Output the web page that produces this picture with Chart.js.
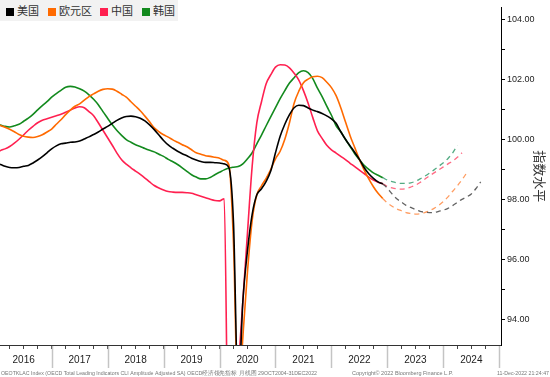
<!DOCTYPE html>
<html>
<head>
<meta charset="utf-8">
<script src="https://cdn.jsdelivr.net/npm/chart.js@4.4.1/dist/chart.umd.min.js"></script>
<style>
  html, body { margin: 0; padding: 0; background: #fff; }
  #wrap { position: relative; width: 550px; height: 377px; }
  #legend { position: absolute; left: 0; top: 0; width: 178px; height: 21px; background: #f2f2f2;
            font: 11px 'Noto Sans CJK SC', sans-serif; color: #333; }
  #legend .box { position: absolute; top: 8px; width: 8px; height: 8px; }
  #legend .txt { position: absolute; top: 2px; line-height: 16px; white-space: nowrap; }
</style>
</head>
<body>
<div id="wrap">
  <canvas id="myChart" width="550" height="377"></canvas>
  <div id="legend"></div>
</div>
<script>
// monthly values, Jan 2016 .. Dec 2022
var seriesNames = ['美国', '欧元区', '中国', '韩国'];
var yearLabels = ['2016', '2017', '2018', '2019', '2020', '2021', '2022', '2023', '2024'];
var firstYear = 2016;
var forecastFrom = 83; // Dec 2022

var usActual = [
    99.19, 99.16, 99.10, 99.06, 99.05, 99.06, 99.10, 99.13, 99.21, 99.31, 99.42, 99.55,
    99.68, 99.78, 99.85, 99.87, 99.90, 99.91, 99.94, 100.01, 100.08, 100.16, 100.24, 100.34,
    100.43, 100.53, 100.63, 100.71, 100.76, 100.77, 100.75, 100.70, 100.61, 100.48, 100.32, 100.14,
    99.96, 99.81, 99.70, 99.60, 99.52, 99.45, 99.37, 99.31, 99.26, 99.23, 99.23, 99.22,
    99.21, 99.18, 99.06, 97.20, 91.50, 94.60, 96.30, 97.50, 98.15, 98.35, 98.60, 98.95,
    99.55, 100.10, 100.50, 100.82, 101.05, 101.13, 101.12, 101.04, 100.97, 100.92, 100.86, 100.78,
    100.68, 100.53, 100.25, 100.00, 99.78, 99.56, 99.33, 99.06, 98.85, 98.70, 98.58, 98.51
]
var euActual = [
    100.50, 100.46, 100.40, 100.33, 100.25, 100.16, 100.10, 100.07, 100.06, 100.09, 100.15, 100.24,
    100.34, 100.50, 100.65, 100.82, 100.97, 101.10, 101.18, 101.30, 101.42, 101.51, 101.60, 101.66,
    101.68, 101.67, 101.60, 101.50, 101.40, 101.25, 101.10, 100.95, 100.77, 100.58, 100.38, 100.25,
    100.15, 100.07, 99.98, 99.90, 99.82, 99.75, 99.65, 99.55, 99.50, 99.45, 99.43, 99.40,
    99.37, 99.30, 99.15, 96.50, 91.00, 93.40, 95.60, 97.30, 98.15, 98.45, 98.70, 99.00,
    99.35, 99.60, 100.00, 100.55, 101.20, 101.60, 101.88, 102.00, 102.08, 102.10, 102.05, 101.90,
    101.72, 101.45, 101.05, 100.58, 100.12, 99.72, 99.33, 98.98, 98.68, 98.42, 98.20, 98.03
]
var cnActual = [
    99.50, 99.62, 99.68, 99.76, 99.87, 100.00, 100.15, 100.30, 100.43, 100.55, 100.63, 100.68,
    100.73, 100.78, 100.83, 100.90, 100.97, 101.04, 101.08, 101.05, 100.92, 100.78, 100.55, 100.30,
    100.05, 99.80, 99.54, 99.32, 99.17, 99.05, 98.94, 98.83, 98.71, 98.58, 98.46, 98.38,
    98.31, 98.26, 98.24, 98.23, 98.23, 98.22, 98.20, 98.15, 98.10, 98.05, 98.00, 97.96,
    97.95, 98.02, 88.50, 89.50, 92.30, 94.60, 96.90, 99.10, 100.55, 101.25, 101.85, 102.15,
    102.40, 102.48, 102.47, 102.38, 102.20, 101.97, 101.62, 101.20, 100.72, 100.28, 100.03, 99.80,
    99.65, 99.54, 99.43, 99.32, 99.20, 99.09, 98.97, 98.86, 98.74, 98.64, 98.57, 98.52
]
var krActual = [
    100.50, 100.47, 100.43, 100.41, 100.45, 100.50, 100.60, 100.70, 100.83, 100.98, 101.12, 101.25,
    101.40, 101.52, 101.63, 101.73, 101.76, 101.74, 101.68, 101.60, 101.48, 101.33, 101.15, 100.92,
    100.70, 100.48, 100.29, 100.13, 99.99, 99.90, 99.82, 99.76, 99.69, 99.63, 99.58, 99.50,
    99.43, 99.33, 99.25, 99.16, 99.05, 98.93, 98.82, 98.74, 98.68, 98.68, 98.73, 98.82,
    98.90, 98.98, 99.04, 99.07, 99.09, 99.18, 99.35, 99.55, 99.85, 100.14, 100.45, 100.75,
    101.05, 101.35, 101.62, 101.87, 102.05, 102.22, 102.28, 102.22, 102.02, 101.70, 101.42, 101.10,
    100.80, 100.45, 100.25, 100.00, 99.76, 99.52, 99.32, 99.13, 99.00, 98.88, 98.80, 98.72
]

// dashed projections, starting Dec 2022
var usForecast = [98.51, 98.37, 98.18, 98.02, 97.91, 97.80, 97.73, 97.66, 97.60, 97.57, 97.56, 97.56,
    97.60, 97.64, 97.70, 97.79, 97.90, 98.00, 98.08, 98.18, 98.36, 98.58]
var euForecast = [98.03, 97.88, 97.77, 97.68, 97.62, 97.56, 97.53, 97.51, 97.52, 97.56, 97.62, 97.70,
    97.80, 97.93, 98.08, 98.27, 98.45, 98.65, 98.88]
var cnForecast = [98.52, 98.43, 98.38, 98.35, 98.34, 98.36, 98.41, 98.47, 98.56, 98.67, 98.78, 98.88,
    98.98, 99.08, 99.18, 99.28, 99.40, 99.55]
var krForecast = [98.72, 98.64, 98.59, 98.55, 98.53, 98.53, 98.55, 98.60, 98.68, 98.77, 98.87, 98.98,
    99.10, 99.22, 99.36, 99.55, 99.80]

var yTicks = [94, 95, 96, 97, 98, 99, 100, 101, 102, 103, 104];

var lineColors = ['#000000', '#ff6a00', '#ff2050', '#138a1e'];
var dashColors = ['rgba(60,60,60,0.8)', 'rgba(255,140,70,0.85)', 'rgba(255,80,110,0.85)', 'rgba(40,150,100,0.8)'];

function toPoints(arr, offset) {
    return arr.map(function (v, i) {
        return { x: firstYear + (offset + i) / 12, y: v };
    });
}

var actuals = [usActual, euActual, cnActual, krActual];
var forecasts = [usForecast, euForecast, cnForecast, krForecast];
var datasets = [];
actuals.forEach(function (arr, k) {
    datasets.push({
        label: seriesNames[k],
        data: toPoints(arr, 0),
        borderColor: lineColors[k],
        borderWidth: 1.6,
        pointRadius: 0,
        cubicInterpolationMode: 'monotone'
    });
});
forecasts.forEach(function (arr, k) {
    datasets.push({
        label: seriesNames[k] + ' 预测',
        data: toPoints(arr, forecastFrom),
        borderColor: dashColors[k],
        borderWidth: 1.3,
        borderDash: [5, 4],
        pointRadius: 0,
        cubicInterpolationMode: 'monotone'
    });
});

// legend
var legend = document.getElementById('legend');
var boxLeft = [6, 48, 100, 142];
seriesNames.forEach(function (name, k) {
    var b = document.createElement('span');
    b.className = 'box';
    b.style.left = boxLeft[k] + 'px';
    b.style.background = lineColors[k];
    legend.appendChild(b);
    var t = document.createElement('span');
    t.className = 'txt';
    t.style.left = (boxLeft[k] + 11) + 'px';
    t.textContent = name;
    legend.appendChild(t);
});

var extras = {
    id: 'extras',
    afterDraw: function (chart) {
        var ctx = chart.ctx;
        var xs = chart.scales.x;
        var bottom = chart.chartArea.bottom;
        ctx.save();
        ctx.strokeStyle = '#c4c4c4';
        ctx.lineWidth = 1.5;
        for (var yr = 2017; yr <= 2025; yr++) {
            var px = Math.round(xs.getPixelForValue(yr)) + 0.5;
            ctx.beginPath();
            ctx.moveTo(px, bottom + 1);
            ctx.lineTo(px, bottom + 23);
            ctx.stroke();
        }
        ctx.fillStyle = '#777';
        ctx.font = '5.5px "Liberation Sans"';
        ctx.textBaseline = 'middle';
        ctx.fillText('OEOTKLAC Index (OECD Total Leading Indicators CLI Amplitude Adjusted SA) OECD经济领先指标  月线图 29OCT2004-31DEC2022', 1, 373, 316);
        ctx.fillText('Copyright\u00a9 2022 Bloomberg Finance L.P.', 352, 373, 106);
        ctx.fillText('11-Dec-2022 21:24:47', 497, 373, 52);
        ctx.restore();
    }
};

var myChart = new Chart(document.getElementById('myChart'), {
    type: 'line',
    data: { datasets: datasets },
    plugins: [extras],
    options: {
        responsive: false,
        animation: false,
        layout: { padding: 0 },
        plugins: { legend: { display: false }, tooltip: { enabled: false } },
        scales: {
            x: {
                type: 'linear',
                min: 2016.077,
                max: 2025.03,
                afterBuildTicks: function (scale) {
                    var t = [];
                    for (var q = 1; q <= 36; q++) t.push({ value: firstYear + q / 4 });
                    scale.ticks = t;
                },
                afterFit: function (scale) { scale.height = 32; },
                grid: { drawOnChartArea: false, drawTicks: true, tickLength: 4, color: '#444' },
                border: { display: true, color: '#333', width: 1 },
                ticks: {
                    autoSkip: false,
                    maxRotation: 0,
                    padding: 5,
                    color: '#222',
                    font: { family: 'Liberation Sans', size: 10 },
                    callback: function (value) {
                        var yr = Math.floor(value);
                        if (Math.abs(value - yr - 0.5) < 1e-6) return yearLabels[yr - firstYear] || '';
                        return '';
                    }
                }
            },
            y: {
                position: 'right',
                min: 93.15,
                max: 104.39,
                afterBuildTicks: function (scale) {
                    scale.ticks = yTicks.map(function (v) { return { value: v }; });
                },
                afterFit: function (scale) { scale.width = 49; },
                grid: { drawOnChartArea: false, drawTicks: true, tickLength: 4, color: '#000' },
                border: { display: true, color: '#000', width: 1 },
                ticks: {
                    padding: 2,
                    color: '#222',
                    font: { family: 'Liberation Sans', size: 9 },
                    callback: function (value) {
                        return value % 2 === 0 ? value.toFixed(2) : '';
                    }
                },
                title: {
                    display: true,
                    text: '指数水平',
                    color: '#333',
                    font: { family: 'Noto Sans CJK SC', size: 13 },
                    padding: { top: 2, bottom: 0 }
                }
            }
        }
    }
});
</script>
</body>
</html>
